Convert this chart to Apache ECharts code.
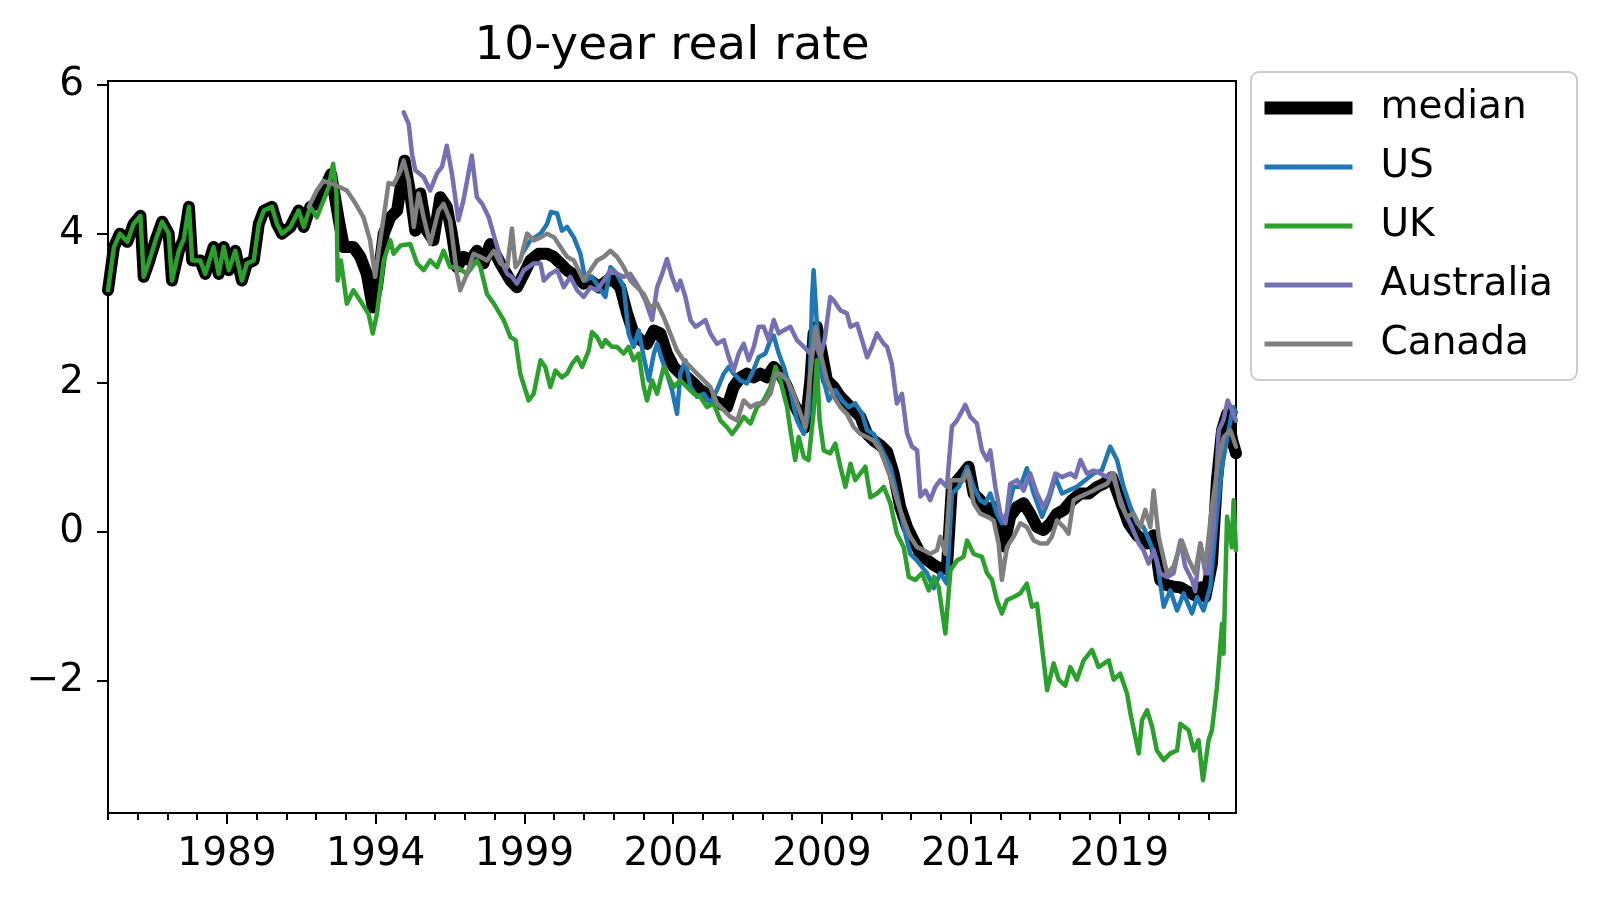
<!DOCTYPE html>
<html>
<head>
<meta charset="utf-8">
<title>10-year real rate</title>
<script src="https://cdn.jsdelivr.net/npm/echarts@6/dist/echarts.min.js"></script>
<style>
html,body{margin:0;padding:0;background:#fff;}
#chart{width:1600px;height:900px;}
</style>
</head>
<body>
<div id="chart"></div>
<script>
// ---- data: [decimal year, rate %] ----
const chartTitle = '10-year real rate';
const seriesNames = ['median', 'US', 'UK', 'Australia', 'Canada'];
const xMajorYears = [1989, 1994, 1999, 2004, 2009, 2014, 2019];
const xMinorYears = [1985,1986,1987,1988,1989,1990,1991,1992,1993,1994,1995,1996,1997,1998,1999,2000,2001,2002,2003,2004,2005,2006,2007,2008,2009,2010,2011,2012,2013,2014,2015,2016,2017,2018,2019,2020,2021,2022];
const yTickValues = [-2, 0, 2, 4, 6];
const xStart = 1985, xEnd = 2022.92;
const yMin = -3.78, yMax = 6.05;

const medianPoints = [[1985.0,3.24],[1985.2,3.82],[1985.4,4.0],[1985.65,3.89],[1985.86,4.13],[1986.09,4.24],[1986.2,3.42],[1986.36,3.6],[1986.6,3.91],[1986.82,4.16],[1987.04,4.0],[1987.15,3.37],[1987.38,3.77],[1987.55,3.93],[1987.72,4.36],[1987.83,3.64],[1988.1,3.64],[1988.27,3.46],[1988.55,3.82],[1988.72,3.46],[1988.89,3.82],[1989.06,3.51],[1989.28,3.77],[1989.5,3.37],[1989.67,3.6],[1989.9,3.64],[1990.07,4.13],[1990.24,4.31],[1990.51,4.36],[1990.68,4.13],[1990.85,4.0],[1991.13,4.09],[1991.41,4.31],[1991.58,4.09],[1991.8,4.36],[1992.02,4.4],[1992.25,4.58],[1992.5,4.8],[1992.76,4.18],[1992.93,3.82],[1993.25,3.82],[1993.48,3.69],[1993.7,3.46],[1993.9,3.01],[1994.04,3.28],[1994.27,4.0],[1994.49,4.22],[1994.72,4.31],[1994.97,4.98],[1995.16,4.54],[1995.33,4.04],[1995.5,4.54],[1995.72,4.04],[1995.94,3.91],[1996.17,4.49],[1996.39,4.36],[1996.56,4.0],[1996.73,3.55],[1996.95,3.69],[1997.18,3.64],[1997.4,3.77],[1997.62,3.6],[1997.85,3.86],[1998.19,3.6],[1998.53,3.37],[1998.75,3.28],[1998.98,3.46],[1999.2,3.64],[1999.48,3.73],[1999.76,3.73],[1999.98,3.69],[2000.21,3.6],[2000.43,3.51],[2000.77,3.42],[2000.99,3.33],[2001.22,3.37],[2001.5,3.28],[2001.78,3.37],[2002.0,3.37],[2002.22,3.28],[2002.45,2.93],[2002.67,2.66],[2002.9,2.57],[2003.12,2.52],[2003.35,2.7],[2003.57,2.66],[2003.79,2.39],[2004.02,2.21],[2004.24,2.12],[2004.47,2.07],[2004.69,1.99],[2004.91,1.9],[2005.14,1.85],[2005.36,1.76],[2005.59,1.72],[2005.81,1.67],[2006.03,1.94],[2006.26,2.07],[2006.48,2.12],[2006.71,2.07],[2006.93,2.12],[2007.15,2.07],[2007.38,2.21],[2007.6,2.12],[2007.83,1.94],[2008.05,1.72],[2008.28,1.54],[2008.44,1.4],[2008.61,2.03],[2008.72,2.66],[2008.83,2.75],[2009.0,2.39],[2009.17,2.03],[2009.4,1.94],[2009.62,1.81],[2009.84,1.72],[2010.07,1.63],[2010.29,1.54],[2010.52,1.31],[2010.74,1.22],[2010.96,1.16],[2011.19,1.07],[2011.41,0.78],[2011.63,0.33],[2011.86,0.06],[2012.08,-0.12],[2012.31,-0.3],[2012.53,-0.38],[2012.76,-0.45],[2012.98,-0.5],[2013.2,-0.5],[2013.37,0.6],[2013.65,0.73],[2013.93,0.87],[2014.1,0.51],[2014.32,0.42],[2014.55,0.29],[2014.77,0.33],[2015.0,0.06],[2015.11,-0.2],[2015.33,0.2],[2015.56,0.33],[2015.78,0.38],[2016.0,0.24],[2016.23,0.06],[2016.45,0.02],[2016.68,0.11],[2016.9,0.24],[2017.13,0.29],[2017.41,0.42],[2017.69,0.51],[2017.97,0.51],[2018.25,0.6],[2018.47,0.64],[2018.75,0.73],[2019.03,0.42],[2019.31,0.11],[2019.59,-0.05],[2019.93,-0.16],[2020.15,-0.05],[2020.37,-0.65],[2020.6,-0.72],[2020.82,-0.74],[2021.05,-0.75],[2021.27,-0.8],[2021.5,-0.85],[2021.72,-0.75],[2021.89,-0.88],[2022.11,-0.43],[2022.28,0.69],[2022.45,1.36],[2022.62,1.58],[2022.79,1.23],[2022.92,1.05]];

const usPoints = [[1998.95,3.75],[1999.2,3.91],[1999.54,4.0],[1999.76,4.13],[1999.89,4.29],[2000.1,4.27],[2000.26,4.04],[2000.43,4.09],[2000.66,3.95],[2000.88,3.73],[2001.05,3.37],[2001.27,3.42],[2001.5,3.28],[2001.72,3.15],[2001.89,3.55],[2002.11,3.46],[2002.34,3.28],[2002.5,2.66],[2002.67,2.48],[2002.84,2.7],[2003.01,2.34],[2003.18,2.03],[2003.35,2.39],[2003.46,2.52],[2003.63,2.3],[2003.79,2.12],[2003.96,1.9],[2004.13,1.58],[2004.24,2.12],[2004.41,2.3],[2004.58,1.94],[2004.8,1.81],[2005.03,1.85],[2005.25,1.72],[2005.47,1.9],[2005.7,2.12],[2005.87,2.21],[2006.03,2.12],[2006.26,2.03],[2006.48,1.99],[2006.65,2.12],[2006.87,2.34],[2007.1,2.39],[2007.27,2.57],[2007.38,2.63],[2007.55,2.39],[2007.72,2.21],[2007.94,1.9],[2008.16,1.49],[2008.39,1.31],[2008.56,1.58],[2008.67,3.15],[2008.72,3.51],[2008.83,2.79],[2009.0,2.12],[2009.23,1.76],[2009.45,1.9],[2009.68,1.76],[2009.9,1.67],[2010.12,1.72],[2010.35,1.58],[2010.52,1.36],[2010.74,1.31],[2010.96,1.14],[2011.3,0.87],[2011.52,0.51],[2011.75,0.06],[2011.97,-0.3],[2012.2,-0.39],[2012.53,-0.56],[2012.76,-0.76],[2012.98,-0.56],[2013.2,-0.7],[2013.37,0.51],[2013.6,0.6],[2013.88,0.87],[2014.1,0.6],[2014.32,0.42],[2014.49,0.38],[2014.66,0.51],[2014.88,0.24],[2015.05,0.11],[2015.22,0.24],[2015.44,0.6],[2015.67,0.6],[2015.89,0.85],[2016.12,0.51],[2016.4,0.2],[2016.62,0.42],[2016.85,0.73],[2017.07,0.51],[2017.29,0.55],[2017.57,0.6],[2017.85,0.69],[2018.13,0.78],[2018.41,0.82],[2018.69,1.14],[2018.92,0.96],[2019.14,0.6],[2019.37,0.33],[2019.59,0.11],[2019.81,0.06],[2020.04,-0.16],[2020.26,-0.39],[2020.49,-1.01],[2020.71,-0.79],[2020.94,-1.06],[2021.16,-0.83],[2021.44,-1.1],[2021.61,-0.88],[2021.83,-1.06],[2022.06,-0.74],[2022.28,0.24],[2022.45,0.87],[2022.67,1.36],[2022.82,1.67],[2022.92,1.6]];

const ukPoints = [[1985.0,3.24],[1985.2,3.82],[1985.4,4.0],[1985.65,3.89],[1985.86,4.13],[1986.09,4.24],[1986.2,3.42],[1986.36,3.6],[1986.6,3.91],[1986.82,4.16],[1987.04,4.0],[1987.15,3.37],[1987.38,3.77],[1987.55,3.93],[1987.72,4.36],[1987.83,3.64],[1988.1,3.64],[1988.27,3.46],[1988.55,3.82],[1988.72,3.46],[1988.89,3.82],[1989.06,3.51],[1989.28,3.77],[1989.5,3.37],[1989.67,3.6],[1989.9,3.64],[1990.07,4.13],[1990.24,4.31],[1990.51,4.36],[1990.68,4.13],[1990.85,4.0],[1991.13,4.09],[1991.41,4.31],[1991.58,4.09],[1991.8,4.36],[1992.02,4.22],[1992.25,4.45],[1992.42,4.63],[1992.57,4.94],[1992.68,4.54],[1992.72,3.37],[1992.83,3.64],[1993.03,3.06],[1993.25,3.24],[1993.48,3.1],[1993.76,2.92],[1993.9,2.66],[1994.04,2.92],[1994.27,3.64],[1994.49,3.91],[1994.6,3.73],[1994.83,3.84],[1995.16,3.86],[1995.39,3.6],[1995.61,3.51],[1995.83,3.64],[1996.06,3.55],[1996.28,3.77],[1996.5,3.55],[1996.73,3.55],[1997.07,3.46],[1997.4,3.64],[1997.52,3.55],[1997.74,3.19],[1997.97,3.06],[1998.3,2.84],[1998.53,2.61],[1998.7,2.57],[1998.86,2.12],[1999.03,1.9],[1999.14,1.76],[1999.31,1.85],[1999.54,2.3],[1999.7,2.21],[1999.87,1.94],[2000.04,2.16],[2000.26,2.07],[2000.43,2.12],[2000.6,2.25],[2000.77,2.34],[2000.94,2.21],[2001.16,2.43],[2001.27,2.68],[2001.44,2.61],[2001.61,2.48],[2001.72,2.57],[2001.94,2.48],[2002.11,2.48],[2002.34,2.39],[2002.5,2.48],[2002.67,2.3],[2002.84,2.39],[2003.01,1.94],[2003.12,1.76],[2003.29,2.03],[2003.46,1.85],[2003.68,2.21],[2003.79,2.12],[2004.02,1.94],[2004.24,2.03],[2004.47,1.94],[2004.69,1.85],[2004.91,1.81],[2005.14,1.67],[2005.36,1.72],[2005.59,1.49],[2005.81,1.4],[2005.98,1.31],[2006.15,1.4],[2006.37,1.54],[2006.6,1.45],[2006.82,1.67],[2007.04,1.76],[2007.27,1.94],[2007.44,2.21],[2007.6,2.03],[2007.83,1.67],[2007.94,1.36],[2008.1,0.96],[2008.22,1.27],[2008.39,1.0],[2008.55,0.96],[2008.72,1.6],[2008.83,2.3],[2008.92,1.5],[2009.06,1.09],[2009.28,1.05],[2009.45,1.18],[2009.62,0.87],[2009.79,0.6],[2009.96,0.91],[2010.12,0.69],[2010.29,0.78],[2010.46,0.87],[2010.63,0.46],[2010.85,0.51],[2011.08,0.6],[2011.3,0.38],[2011.52,-0.03],[2011.75,-0.21],[2011.92,-0.61],[2012.14,-0.65],[2012.36,-0.56],[2012.59,-0.79],[2012.76,-0.61],[2012.92,-0.74],[2013.15,-1.37],[2013.32,-0.52],[2013.54,-0.39],[2013.76,-0.34],[2013.88,-0.12],[2014.1,-0.3],[2014.38,-0.34],[2014.55,-0.56],[2014.72,-0.65],[2014.88,-0.92],[2015.05,-1.1],[2015.22,-0.92],[2015.45,-0.88],[2015.67,-0.83],[2015.89,-0.7],[2016.06,-1.01],[2016.23,-0.97],[2016.4,-1.55],[2016.57,-2.13],[2016.79,-1.77],[2016.96,-1.99],[2017.18,-2.07],[2017.35,-1.82],[2017.57,-1.99],[2017.8,-1.73],[2018.08,-1.59],[2018.3,-1.82],[2018.64,-1.73],[2018.81,-1.99],[2019.03,-1.91],[2019.26,-2.18],[2019.37,-2.44],[2019.65,-2.98],[2019.76,-2.53],[2019.93,-2.4],[2020.1,-2.62],[2020.26,-2.94],[2020.49,-3.07],[2020.71,-2.98],[2020.94,-2.94],[2021.05,-2.58],[2021.33,-2.67],[2021.5,-2.94],[2021.66,-2.8],[2021.81,-3.34],[2022.0,-2.8],[2022.11,-2.67],[2022.28,-2.09],[2022.45,-1.24],[2022.5,-1.64],[2022.62,0.2],[2022.78,-0.21],[2022.84,0.42],[2022.92,-0.25]];

const australiaPoints = [[1994.94,5.63],[1995.11,5.47],[1995.22,5.07],[1995.33,4.85],[1995.61,4.76],[1995.83,4.58],[1996.06,4.81],[1996.23,4.9],[1996.39,5.18],[1996.56,4.81],[1996.78,4.18],[1996.95,4.45],[1997.23,5.05],[1997.4,4.49],[1997.58,4.4],[1997.8,4.22],[1998.02,3.91],[1998.25,3.6],[1998.42,3.46],[1998.58,3.42],[1998.75,3.33],[1998.98,3.51],[1999.31,3.6],[1999.54,3.6],[1999.65,3.37],[1999.87,3.46],[2000.1,3.51],[2000.32,3.28],[2000.54,3.42],[2000.77,3.24],[2000.99,3.15],[2001.22,3.28],[2001.44,3.24],[2001.67,3.37],[2001.89,3.51],[2002.11,3.46],[2002.34,3.42],[2002.56,3.46],[2002.84,3.28],[2003.07,3.1],[2003.29,2.84],[2003.46,3.28],[2003.63,3.46],[2003.79,3.66],[2003.96,3.42],[2004.13,3.24],[2004.24,3.37],[2004.41,3.15],[2004.58,2.84],[2004.75,2.75],[2004.91,2.79],[2005.08,2.84],[2005.25,2.66],[2005.47,2.52],[2005.7,2.57],[2005.87,2.34],[2006.03,2.16],[2006.2,2.39],[2006.37,2.52],[2006.54,2.3],[2006.71,2.48],[2006.87,2.75],[2007.04,2.75],[2007.21,2.57],[2007.38,2.84],[2007.55,2.66],[2007.71,2.7],[2007.94,2.75],[2008.16,2.57],[2008.39,2.48],[2008.61,2.39],[2008.78,2.52],[2008.95,2.34],[2009.1,2.6],[2009.28,3.15],[2009.4,3.1],[2009.62,2.97],[2009.84,2.93],[2009.96,2.75],[2010.18,2.79],[2010.35,2.57],[2010.52,2.34],[2010.68,2.48],[2010.85,2.66],[2011.08,2.52],[2011.19,2.48],[2011.35,2.25],[2011.52,1.72],[2011.69,1.85],[2011.86,1.32],[2012.03,1.14],[2012.2,1.09],[2012.31,0.47],[2012.48,0.55],[2012.64,0.42],[2012.81,0.6],[2012.98,0.69],[2013.2,0.6],[2013.37,1.41],[2013.54,1.49],[2013.82,1.7],[2013.99,1.54],[2014.21,1.45],[2014.38,1.09],[2014.55,0.96],[2014.66,1.09],[2014.83,0.6],[2015.0,0.24],[2015.17,0.11],[2015.33,0.64],[2015.56,0.69],[2015.78,0.55],[2016.0,0.78],[2016.23,0.51],[2016.45,0.33],[2016.62,0.47],[2016.85,0.78],[2017.07,0.73],[2017.35,0.78],[2017.52,0.73],[2017.69,0.96],[2017.91,0.78],[2018.13,0.82],[2018.36,0.78],[2018.58,0.73],[2018.75,0.78],[2018.97,0.51],[2019.2,0.24],[2019.42,0.06],[2019.65,-0.16],[2019.81,-0.25],[2019.98,-0.43],[2020.15,-0.25],[2020.37,-0.56],[2020.6,-0.61],[2020.82,-0.56],[2021.05,-0.12],[2021.21,-0.47],[2021.44,-0.65],[2021.55,-0.8],[2021.72,-0.16],[2021.89,-0.56],[2022.0,-0.56],[2022.17,0.06],[2022.34,1.36],[2022.5,1.5],[2022.64,1.76],[2022.78,1.63],[2022.92,1.49]];

const canadaPoints = [[1991.75,4.36],[1992.02,4.58],[1992.25,4.71],[1992.47,4.68],[1992.76,4.63],[1993.03,4.58],[1993.25,4.45],[1993.59,4.22],[1993.81,3.91],[1993.98,3.42],[1994.15,3.91],[1994.32,4.36],[1994.43,4.68],[1994.6,4.66],[1994.83,4.84],[1994.94,4.98],[1995.11,4.71],[1995.28,4.09],[1995.44,4.54],[1995.61,4.22],[1995.83,3.86],[1996.11,4.31],[1996.28,4.4],[1996.5,4.18],[1996.73,3.46],[1996.84,3.24],[1997.07,3.46],[1997.29,3.73],[1997.51,3.69],[1997.74,3.64],[1997.97,3.77],[1998.19,3.6],[1998.42,3.55],[1998.58,4.07],[1998.7,3.55],[1998.86,3.64],[1999.09,4.0],[1999.31,3.91],[1999.54,3.95],[1999.76,4.0],[2000.0,3.95],[2000.21,3.82],[2000.43,3.69],[2000.66,3.64],[2000.88,3.46],[2000.99,3.37],[2001.22,3.51],[2001.44,3.64],[2001.67,3.69],[2001.89,3.77],[2002.11,3.69],[2002.34,3.55],[2002.56,3.37],[2002.79,3.28],[2003.01,3.19],[2003.23,3.01],[2003.46,3.06],[2003.68,2.88],[2003.9,2.66],[2004.13,2.43],[2004.35,2.3],[2004.58,2.21],[2004.8,2.12],[2005.03,2.03],[2005.25,1.94],[2005.47,1.72],[2005.7,1.63],[2005.92,1.54],[2006.15,1.49],[2006.37,1.76],[2006.6,1.67],[2006.82,1.72],[2007.04,1.72],[2007.27,1.85],[2007.44,2.12],[2007.6,2.12],[2007.83,2.03],[2008.05,1.85],[2008.28,1.58],[2008.44,1.4],[2008.61,2.12],[2008.78,2.75],[2008.95,2.39],[2009.17,2.03],[2009.4,1.81],[2009.62,1.67],[2009.84,1.58],[2010.07,1.4],[2010.29,1.31],[2010.52,1.27],[2010.74,1.22],[2010.96,1.09],[2011.3,0.73],[2011.52,0.42],[2011.75,0.15],[2011.97,-0.07],[2012.2,-0.21],[2012.42,-0.25],[2012.64,-0.3],[2012.87,-0.25],[2012.98,-0.07],[2013.15,-0.3],[2013.32,0.69],[2013.54,0.69],[2013.76,0.69],[2013.9,0.82],[2014.1,0.38],[2014.32,0.24],[2014.55,0.2],[2014.77,0.15],[2014.94,-0.16],[2015.05,-0.65],[2015.22,-0.21],[2015.44,-0.07],[2015.67,0.11],[2015.89,0.06],[2016.12,-0.12],[2016.34,-0.16],[2016.57,-0.16],[2016.73,-0.07],[2016.9,0.15],[2017.13,0.06],[2017.29,-0.03],[2017.46,0.42],[2017.69,0.47],[2017.91,0.51],[2018.13,0.55],[2018.36,0.6],[2018.58,0.64],[2018.81,0.78],[2019.03,0.38],[2019.25,0.2],[2019.48,0.24],[2019.7,0.06],[2019.87,0.29],[2020.04,0.06],[2020.15,0.55],[2020.32,-0.07],[2020.6,-0.56],[2020.82,-0.47],[2021.1,-0.12],[2021.33,-0.38],[2021.55,-0.56],[2021.72,-0.16],[2021.89,-0.47],[2022.11,0.33],[2022.34,0.96],[2022.51,1.27],[2022.73,1.36],[2022.92,1.14]];

// ---- chart ----
const FONT = 'DejaVu Sans';
const colors = ['#000000', '#1f77b4', '#2ca02c', '#7570b3', '#7f7f7f'];
const widths = [12, 4.5, 4.5, 4.5, 4.5];
const allPoints = [medianPoints, usPoints, ukPoints, australiaPoints, canadaPoints];

const chart = echarts.init(document.getElementById('chart'), null, {renderer: 'canvas'});

const minusFmt = v => (v < 0 ? '\u2212' + Math.abs(v) : String(v));

const option = {
  animation: false,
  backgroundColor: '#ffffff',
  textStyle: {fontFamily: FONT},
  title: {
    text: chartTitle,
    left: 667,
    top: 18,
    textAlign: 'center',
    textStyle: {fontFamily: FONT, fontSize: 47, fontWeight: 'normal', color: '#000'}
  },
  legend: {
    orient: 'vertical',
    left: 1251,
    top: 72,
    padding: [16, 24, 16, 7],
    itemWidth: 88,
    itemHeight: 14,
    itemGap: 19,
    selectedMode: false,
    backgroundColor: '#ffffff',
    borderColor: '#cccccc',
    borderWidth: 2,
    borderRadius: 8,
    itemStyle: {opacity: 0},
    lineStyle: {width: 'inherit', cap: 'butt'},
    textStyle: {fontFamily: FONT, fontSize: 39, color: '#000', lineHeight: 40, padding: [0, 0, 0, 23]},
    data: seriesNames.map((n, i) => ({name: n, lineStyle: {width: i === 0 ? 13 : 5, color: colors[i], cap: 'butt'}}))
  },
  grid: {
    left: 108, right: 364, top: 81, bottom: 87,
    show: true, borderColor: '#000', borderWidth: 2, backgroundColor: 'transparent'
  },
  xAxis: [
    {
      type: 'value', min: xStart, max: xEnd, position: 'bottom',
      axisLine: {show: false, onZero: false},
      splitLine: {show: false},
      axisTick: {show: true, customValues: xMajorYears, length: 11, lineStyle: {color: '#000', width: 2}},
      axisLabel: {show: true, customValues: xMajorYears, formatter: v => String(v), fontFamily: FONT, fontSize: 39, color: '#000', margin: 22}
    },
    {
      type: 'value', min: xStart, max: xEnd, position: 'bottom',
      axisLine: {show: false, onZero: false},
      splitLine: {show: false},
      axisTick: {show: true, customValues: xMinorYears, length: 7, lineStyle: {color: '#000', width: 2}},
      axisLabel: {show: false}
    }
  ],
  yAxis: {
    type: 'value', min: yMin, max: yMax,
    axisLine: {show: false, onZero: false},
    splitLine: {show: false},
    axisTick: {show: true, customValues: yTickValues, length: 11, lineStyle: {color: '#000', width: 2}},
    axisLabel: {show: true, customValues: yTickValues, formatter: minusFmt, fontFamily: FONT, fontSize: 39, color: '#000', margin: 24}
  },
  series: seriesNames.map((name, i) => ({
    name: name,
    type: 'line',
    xAxisIndex: 0,
    yAxisIndex: 0,
    data: allPoints[i],
    symbol: 'none',
    showSymbol: false,
    color: colors[i],
    lineStyle: {color: colors[i], width: widths[i], join: 'round', cap: 'round'},
    emphasis: {disabled: true},
    z: 2 + i,
    clip: true
  }))
};

chart.setOption(option);
</script>
</body>
</html>
